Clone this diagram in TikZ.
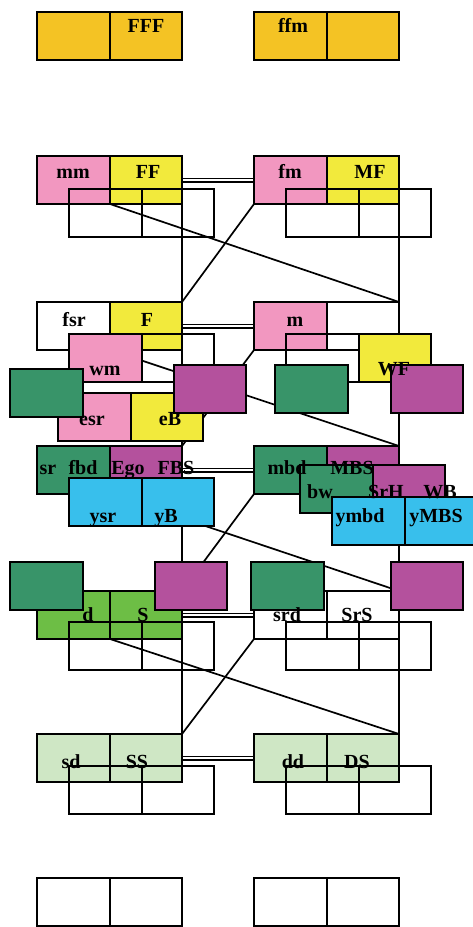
\documentclass[tikz,border=0pt]{standalone}
\usepackage{fontspec}
\setmainfont{Liberation Serif}
\usetikzlibrary{backgrounds}
\definecolor{cOr}{HTML}{F4C324}
\definecolor{cPk}{HTML}{F297C0}
\definecolor{cYe}{HTML}{F2EA3C}
\definecolor{cDg}{HTML}{389469}
\definecolor{cMg}{HTML}{B4519D}
\definecolor{cCy}{HTML}{38BFEC}
\definecolor{cLg}{HTML}{6DBE45}
\definecolor{cPg}{HTML}{CFE7C5}
\begin{document}
\begin{tikzpicture}[x=1pt,y=-1pt,
  cell/.style={draw=black, line width=1.9pt, minimum width=73pt, minimum height=48pt, inner sep=0pt, outer sep=0pt, anchor=north west},
  cellr/.style={cell, minimum width=72pt},
  conn/.style={line width=1.7pt},
  dbl/.style={line width=1.5pt, double=white, double distance=2pt},
  lbl/.style={anchor=base, inner sep=0pt, font=\bfseries\fontsize{20}{24}\selectfont}]
\useasboundingbox (0,0) rectangle (473,927);
% ---------- level 1
\node[cell, fill=cOr] (L1a) at (37,12) {};
\node[cellr, fill=cOr] (L1b) at (110,12) {};
\node[cell, fill=cOr] (R1a) at (254,12) {};
\node[cellr, fill=cOr] (R1b) at (327,12) {};
% ---------- level 2
\node[cell, fill=cPk] (L2a) at (37,156) {};
\node[cellr, fill=cYe] (L2b) at (110,156) {};
\node[cell] (L2c) at (69,189) {};
\node[cellr] (L2d) at (142,189) {};
\node[cell, fill=cPk] (R2a) at (254,156) {};
\node[cellr, fill=cYe] (R2b) at (327,156) {};
\node[cell] (R2c) at (286,189) {};
\node[cellr] (R2d) at (359,189) {};
% ---------- level 3
\node[cell] (L3a) at (37,302) {};
\node[cellr, fill=cYe] (L3b) at (110,302) {};
\node[cell, fill=cPk] (L3c) at (69,334) {};
\node[cellr] (L3d) at (142,334) {};
\node[cell, fill=cPk] (L3e) at (58,393) {};
\node[cellr, fill=cYe] (L3f) at (131,393) {};
\node[cell, fill=cDg] (L3g) at (10,369) {};
\node[cellr, fill=cMg] (L3h) at (174,365) {};
\node[cell, fill=cPk] (R3a) at (254,302) {};
\node[cellr] (R3b) at (327,302) {};
\node[cell] (R3c) at (286,334) {};
\node[cellr, fill=cYe] (R3d) at (359,334) {};
\node[cell, fill=cDg] (R3g) at (275,365) {};
\node[cellr, fill=cMg] (R3h) at (391,365) {};
% ---------- level 4
\node[cell, fill=cDg] (L4a) at (37,446) {};
\node[cellr, fill=cMg] (L4b) at (110,446) {};
\node[cell, fill=cCy] (L4c) at (69,478) {};
\node[cellr, fill=cCy] (L4d) at (142,478) {};
\node[cell, fill=cDg] (R4a) at (254,446) {};
\node[cellr, fill=cMg] (R4b) at (327,446) {};
\node[cell, fill=cDg] (R4c) at (300,465) {};
\node[cellr, fill=cMg] (R4d) at (373,465) {};
\node[cell, fill=cCy] (R4e) at (332,497) {};
\node[cellr, fill=cCy] (R4f) at (405,497) {};
% ---------- level 5
\node[cell, fill=cLg] (L5a) at (37,591) {};
\node[cellr, fill=cLg] (L5b) at (110,591) {};
\node[cell] (L5c) at (69,622) {};
\node[cellr] (L5d) at (142,622) {};
\node[cell, fill=cDg] (L5g) at (10,562) {};
\node[cellr, fill=cMg] (L5h) at (155,562) {};
\node[cell] (R5a) at (254,591) {};
\node[cellr] (R5b) at (327,591) {};
\node[cell] (R5c) at (286,622) {};
\node[cellr] (R5d) at (359,622) {};
\node[cell, fill=cDg] (R5g) at (251,562) {};
\node[cellr, fill=cMg] (R5h) at (391,562) {};
% ---------- level 6
\node[cell, fill=cPg] (L6a) at (37,734) {};
\node[cellr, fill=cPg] (L6b) at (110,734) {};
\node[cell] (L6c) at (69,766) {};
\node[cellr] (L6d) at (142,766) {};
\node[cell, fill=cPg] (R6a) at (254,734) {};
\node[cellr, fill=cPg] (R6b) at (327,734) {};
\node[cell] (R6c) at (286,766) {};
\node[cellr] (R6d) at (359,766) {};
% ---------- level 7
\node[cell] (L7a) at (37,878) {};
\node[cellr] (L7b) at (110,878) {};
\node[cell] (R7a) at (254,878) {};
\node[cellr] (R7b) at (327,878) {};
% ---------- connectors (behind boxes)
\begin{scope}[on background layer]
\foreach \k/\n in {2/3,3/4,4/5,5/6}{
  \draw[conn] (L\k b.south east) -- (L\n b.north east);
  \draw[conn] (R\k b.south east) -- (R\n b.north east);
  \draw[conn] (L\k a.south east) -- (R\n b.north east);
  \draw[conn] (R\k a.south west) -- (L\n b.north east);
}
\foreach \k in {2,3,4,5,6}{
  \draw[dbl] (L\k b.east) -- (R\k a.west);
}
\end{scope}
% ---------- labels
\node[lbl] (tFFF) at (146,32) {FFF};
\node[lbl] (tffm) at (293,32) {ffm};
\node[lbl] (tmm) at (73,178) {mm};
\node[lbl] (tFF) at (148,178) {FF};
\node[lbl] (tfm) at (290,178) {fm};
\node[lbl] (tMF) at (370,178) {MF};
\node[lbl] (tfsr) at (74,326) {fsr};
\node[lbl] (tF) at (147,326) {F};
\node[lbl] (tm) at (295,326) {m};
\node[lbl] (twm) at (105,375) {wm};
\node[lbl] (tWF) at (394,375) {WF};
\node[lbl] (tesr) at (92,425) {esr};
\node[lbl] (teB) at (170,425) {eB};
\node[lbl] (tsr) at (48,474) {sr};
\node[lbl] (tfbd) at (83,474) {fbd};
\node[lbl] (tEgo) at (128,474) {Ego};
\node[lbl] (tFBS) at (176,474) {FBS};
\node[lbl] (tmbd) at (287,474) {mbd};
\node[lbl] (tMBS) at (352,474) {MBS};
\node[lbl] (tbw) at (320,498) {bw};
\node[lbl] (tSrH) at (386,498) {SrH};
\node[lbl] (tWB) at (440,498) {WB};
\node[lbl] (tysr) at (103,522) {ysr};
\node[lbl] (tyB) at (166,522) {yB};
\node[lbl] (tymbd) at (360,522) {ymbd};
\node[lbl] (tyMBS) at (436,522) {yMBS};
\node[lbl] (td) at (88,621) {d};
\node[lbl] (tS) at (143,621) {S};
\node[lbl] (tsrd) at (287,621) {srd};
\node[lbl] (tSrS) at (357,621) {SrS};
\node[lbl] (tsd) at (71,768) {sd};
\node[lbl] (tSS) at (137,768) {SS};
\node[lbl] (tdd) at (293,768) {dd};
\node[lbl] (tDS) at (357,768) {DS};
\end{tikzpicture}
\end{document}
